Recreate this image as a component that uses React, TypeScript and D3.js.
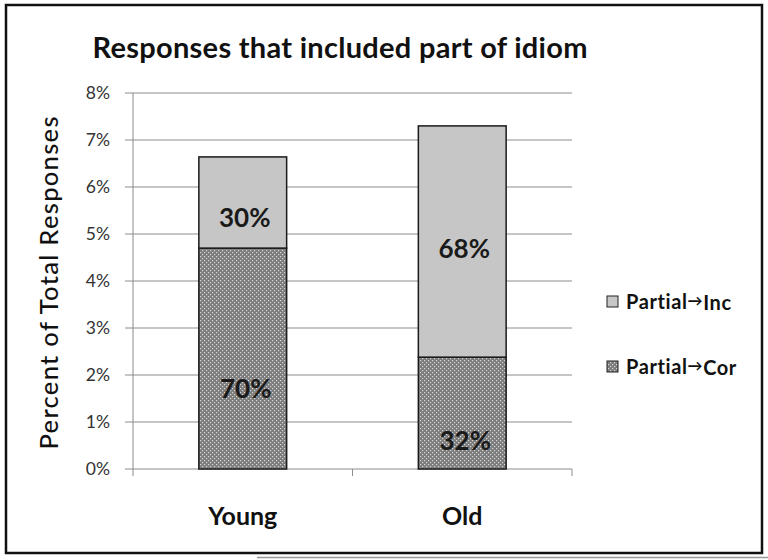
import React from "react";
import * as d3 from "d3";

const groups = ["Young", "Old"];
const partialCor = [4.7, 2.38];
const partialInc = [1.94, 4.92];
const corLabels = ["70%", "32%"];
const incLabels = ["30%", "68%"];
// where the hand-placed percentage labels sit, in axis units
const corLabelAt = [1.7, 0.6];
const incLabelAt = [5.34, 4.68];
const yTicks = [0, 1, 2, 3, 4, 5, 6, 7, 8];

const FONT = "Lato, 'Open Sans', sans-serif";

const App = () => {
  const x = d3
    .scaleBand<string>()
    .domain(groups)
    .range([133, 572])
    .paddingInner(0.6)
    .paddingOuter(0.3);
  const y = d3.scaleLinear().domain([0, 8]).range([469, 93]);

  const rows = groups.map((g, i) => ({ group: g, cor: partialCor[i], inc: partialInc[i] }));
  const series = d3.stack<any>().keys(["cor", "inc"])(rows);
  const fills: Record<string, string> = { cor: "url(#dots)", inc: "#c6c6c6" };

  return (
    <svg
      width={768}
      height={560}
      style={{ position: "absolute", left: 0, top: 0, background: "#fff" }}
    >
      <defs>
        <pattern id="dots" width={4} height={4} patternUnits="userSpaceOnUse">
          <rect width={4} height={4} fill="#7c7c7c" />
          <rect x={0} y={0} width={1.2} height={1.2} fill="#d8d8d8" />
          <rect x={2} y={2} width={1.2} height={1.2} fill="#d8d8d8" />
        </pattern>
      </defs>

      {/* outer frame */}
      <rect x={6} y={5} width={756} height={548} fill="none" stroke="#111" strokeWidth={2.5} />
      <line x1={257} x2={768} y1={557.5} y2={557.5} stroke="#999" strokeWidth={1.5} />

      <text
        x={340}
        y={58}
        textAnchor="middle"
        fontFamily={FONT}
        fontWeight="bold"
        fontSize={29}
        textLength={495}
        fill="#111"
      >
        Responses that included part of idiom
      </text>

      {/* gridlines and y ticks */}
      {yTicks.map((t) => (
        <g key={t}>
          <line x1={125} x2={572} y1={y(t)} y2={y(t)} stroke="#8c8c8c" strokeWidth={1} />
          <text
            x={110}
            y={y(t)}
            dy="0.36em"
            textAnchor="end"
            fontFamily={FONT}
            fontSize={17.5}
            fill="#333"
          >
            {t}%
          </text>
        </g>
      ))}
      <line x1={133} x2={133} y1={y(8)} y2={y(0)} stroke="#8c8c8c" />
      {[133, 352.5, 572].map((tx) => (
        <line key={tx} x1={tx} x2={tx} y1={y(0)} y2={y(0) + 7} stroke="#8c8c8c" />
      ))}

      {/* bars */}
      {series.map((s) =>
        s.map((d, i) => (
          <rect
            key={s.key + i}
            x={x(groups[i])}
            width={x.bandwidth()}
            y={y(d[1])}
            height={y(d[0]) - y(d[1])}
            fill={fills[s.key]}
            stroke="#1a1a1a"
            strokeWidth={1.5}
          />
        ))
      )}

      {/* percentage labels */}
      {groups.map((g, i) => (
        <g key={g} fontFamily={FONT} fontWeight="bold" fontSize={26} fill="#1a1a1a" textAnchor="middle">
          <text x={(x(g) ?? 0) + x.bandwidth() / 2 + 2} y={y(incLabelAt[i])} dy="0.36em">
            {incLabels[i]}
          </text>
          <text x={(x(g) ?? 0) + x.bandwidth() / 2 + 3} y={y(corLabelAt[i])} dy="0.36em">
            {corLabels[i]}
          </text>
        </g>
      ))}

      {/* x labels */}
      {groups.map((g) => (
        <text
          key={g}
          x={(x(g) ?? 0) + x.bandwidth() / 2}
          y={525}
          textAnchor="middle"
          fontFamily={FONT}
          fontWeight="bold"
          fontSize={25}
          fill="#111"
        >
          {g}
        </text>
      ))}

      <text
        transform="translate(58,283) rotate(-90)"
        textAnchor="middle"
        fontFamily={FONT}
        fontSize={25.5}
        fontWeight={500}
        textLength={333}
        fill="#111"
      >
        Percent of Total Responses
      </text>

      {/* legend */}
      {[
        { label: "Inc", fill: fills.inc, y: 302 },
        { label: "Cor", fill: fills.cor, y: 367 },
      ].map((l) => (
        <g key={l.label} fontFamily={FONT} fontWeight="bold" fill="#111">
          <rect x={607} y={l.y - 6} width={11} height={11} fill={l.fill} stroke="#222" strokeWidth={1} />
          <text x={626} y={l.y} dy="0.36em" fontSize={20} letterSpacing={0.6}>
            Partial
            <tspan fontSize={15} dy="-0.2em">→</tspan>
            <tspan fontSize={20} dy="0.2em">{l.label}</tspan>
          </text>
        </g>
      ))}
    </svg>
  );
};

export default App;
